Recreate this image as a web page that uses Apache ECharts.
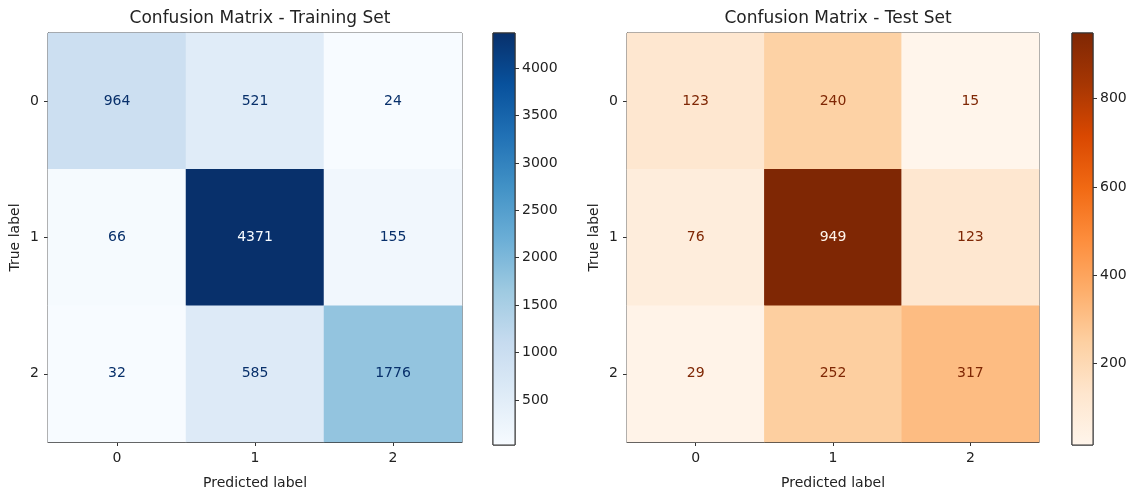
<!DOCTYPE html>
<html>
<head>
<meta charset="utf-8">
<script src="https://cdn.jsdelivr.net/npm/echarts@6/dist/echarts.min.js"></script>
<style>
  html, body { margin: 0; padding: 0; background: #fff; }
  #chart { width: 1141px; height: 495px; }
</style>
</head>
<body>
<div id="chart"></div>
<script>
// Class labels shared by both matrices
const classLabels = ['0', '1', '2'];

// Confusion counts, rows = true label, columns = predicted label
const trainCounts = [
  [964, 521, 24],
  [66, 4371, 155],
  [32, 585, 1776]
];
const testCounts = [
  [123, 240, 15],
  [76, 949, 123],
  [29, 252, 317]
];

// Colorbar tick values
const trainBarTicks = [500, 1000, 1500, 2000, 2500, 3000, 3500, 4000];
const testBarTicks = [200, 400, 600, 800];

// Sequential colour maps
const blues = ['#f7fbff', '#deebf7', '#c6dbef', '#9ecae1', '#6baed6', '#4292c6', '#2171b5', '#08519c', '#08306b'];
const oranges = ['#fff5eb', '#fee6ce', '#fdd0a2', '#fdae6b', '#fd8d3c', '#f16913', '#d94801', '#a63603', '#7f2704'];

const FONT = 'DejaVu Sans';
const INK = '#222222';
const FRAME = '#333333';

function flatten(m) { return [].concat(...m); }

// Heatmap items; text is dark on light cells and light on dark cells
function cellItems(counts, cmap) {
  const vals = flatten(counts);
  const lo = Math.min(...vals), hi = Math.max(...vals);
  const thresh = (lo + hi) / 2;
  const items = [];
  counts.forEach((row, r) => row.forEach((v, c) => {
    items.push({
      value: [c, r, v],
      label: { color: v < thresh ? cmap[cmap.length - 1] : cmap[0] }
    });
  }));
  return { items, lo, hi };
}

const train = cellItems(trainCounts, blues);
const test = cellItems(testCounts, oranges);

function gradient(cmap) {
  return new echarts.graphic.LinearGradient(0, 1, 0, 0,
    cmap.map((c, i) => ({ offset: i / (cmap.length - 1), color: c })));
}

// Colour bar drawn as one rect spanning the data range on its own value axis
function colorBarSeries(idx, lo, hi, cmap) {
  return {
    type: 'custom',
    xAxisIndex: idx, yAxisIndex: idx,
    data: [[0, lo, hi]],
    silent: true,
    renderItem(params, api) {
      const top = api.coord([0, api.value(2)]);
      const bot = api.coord([0, api.value(1)]);
      const cs = params.coordSys;
      return {
        type: 'rect',
        shape: { x: cs.x, y: top[1], width: cs.width, height: bot[1] - top[1] },
        style: { fill: gradient(cmap), stroke: FRAME, lineWidth: 1 }
      };
    }
  };
}

const gridTop = 33, gridH = 412;
const grids = [
  { left: 48, top: gridTop, width: 414, height: gridH },
  { left: 493, top: gridTop, width: 22, height: gridH },
  { left: 627, top: gridTop, width: 412, height: gridH },
  { left: 1072, top: gridTop, width: 21, height: gridH }
];

function matrixXAxis(gi) {
  return {
    type: 'category', gridIndex: gi, data: classLabels,
    name: 'Predicted label', nameLocation: 'middle', nameGap: 34,
    nameTextStyle: { fontFamily: FONT, fontSize: 14, color: INK },
    axisLine: { show: true, lineStyle: { color: FRAME, width: 1 } },
    axisTick: { show: true, alignWithLabel: true, length: 4, lineStyle: { color: FRAME } },
    axisLabel: { fontFamily: FONT, fontSize: 14, color: INK, margin: 9 },
    splitLine: { show: false }
  };
}
function matrixYAxis(gi) {
  return {
    type: 'category', gridIndex: gi, data: classLabels, inverse: true,
    name: 'True label', nameLocation: 'middle', nameGap: 26, nameRotate: 90,
    nameTextStyle: { fontFamily: FONT, fontSize: 14, color: INK },
    axisLine: { show: true, lineStyle: { color: FRAME, width: 1 } },
    axisTick: { show: true, alignWithLabel: true, length: 4, lineStyle: { color: FRAME } },
    axisLabel: { fontFamily: FONT, fontSize: 14, color: INK, margin: 9 },
    splitLine: { show: false }
  };
}
function barXAxis(gi) {
  return { type: 'category', gridIndex: gi, data: ['c'], show: false };
}
function barYAxis(gi, lo, hi, ticks) {
  return {
    type: 'value', gridIndex: gi, min: lo, max: hi, position: 'right',
    axisLine: { show: false },
    axisTick: { show: true, length: 4, customValues: ticks, lineStyle: { color: FRAME } },
    axisLabel: { fontFamily: FONT, fontSize: 14, color: INK, margin: 7, customValues: ticks,
      formatter: v => String(v) },
    splitLine: { show: false }
  };
}

function heatSeries(gi, items) {
  return {
    type: 'heatmap', xAxisIndex: gi, yAxisIndex: gi,
    data: items,
    label: { show: true, fontFamily: FONT, fontSize: 14, formatter: p => String(p.value[2]) },
    emphasis: { disabled: true },
    itemStyle: { borderWidth: 0 }
  };
}

const option = {
  backgroundColor: '#ffffff',
  animation: false,
  textStyle: { fontFamily: FONT },
  title: [
    { text: 'Confusion Matrix - Training Set', left: 255, top: 5, textAlign: 'center',
      textStyle: { fontFamily: FONT, fontSize: 17, fontWeight: 'normal', color: INK } },
    { text: 'Confusion Matrix - Test Set', left: 833, top: 5, textAlign: 'center',
      textStyle: { fontFamily: FONT, fontSize: 17, fontWeight: 'normal', color: INK } }
  ],
  grid: grids.map(g => Object.assign({ show: true, borderColor: FRAME, borderWidth: 1, backgroundColor: 'transparent' }, g)),
  xAxis: [matrixXAxis(0), barXAxis(1), matrixXAxis(2), barXAxis(3)],
  yAxis: [
    matrixYAxis(0),
    barYAxis(1, train.lo, train.hi, trainBarTicks),
    matrixYAxis(2),
    barYAxis(3, test.lo, test.hi, testBarTicks)
  ],
  visualMap: [
    { type: 'continuous', show: false, seriesIndex: 0, dimension: 2, min: train.lo, max: train.hi, inRange: { color: blues } },
    { type: 'continuous', show: false, seriesIndex: 2, dimension: 2, min: test.lo, max: test.hi, inRange: { color: oranges } }
  ],
  series: [
    heatSeries(0, train.items),
    colorBarSeries(1, train.lo, train.hi, blues),
    heatSeries(2, test.items),
    colorBarSeries(3, test.lo, test.hi, oranges)
  ]
};

const chart = echarts.init(document.getElementById('chart'), null, { renderer: 'canvas' });
chart.setOption(option);
</script>
</body>
</html>
